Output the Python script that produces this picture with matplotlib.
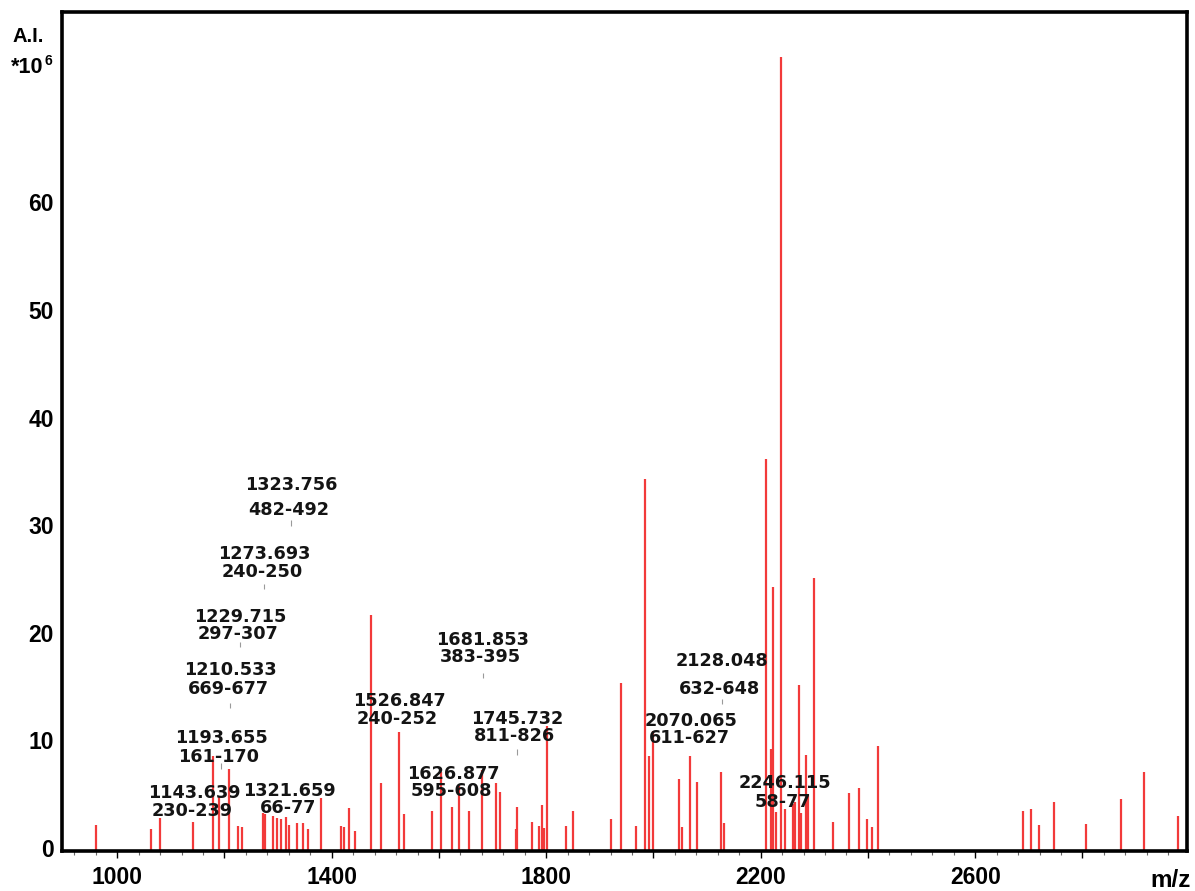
import numpy as np
import matplotlib
matplotlib.use("Agg")
import matplotlib.pyplot as plt
from matplotlib import font_manager
from matplotlib.ticker import MultipleLocator

# peak list: m/z and intensity (x 10^6)
mz = [960, 1063, 1079, 1141, 1178, 1190, 1208, 1226, 1232, 1271, 1275, 1290,
      1298, 1306, 1315, 1320, 1336, 1347, 1355, 1380, 1418, 1422, 1432, 1443,
      1474, 1492, 1525, 1535, 1587, 1604, 1624, 1637, 1656, 1680, 1706, 1714,
      1743, 1745, 1773, 1787, 1793, 1796, 1801, 1837, 1850, 1921, 1939, 1968,
      1985, 1991, 2000, 2048, 2054, 2069, 2082, 2126, 2131,
      2210, 2219, 2223, 2229, 2237.5, 2245, 2260, 2264, 2272, 2275, 2285, 2289,
      2300, 2335, 2364, 2383, 2398, 2407, 2418,
      2689, 2704, 2719, 2747, 2807, 2872, 2915, 2978]
intensity = [2.1, 1.7, 2.8, 2.4, 8.5, 4.7, 7.3, 2.0, 1.9, 3.2, 3.1, 3.0,
             2.8, 2.7, 2.9, 2.1, 2.3, 2.3, 1.7, 4.6, 2.0, 1.9, 3.7, 1.6,
             21.6, 6.0, 10.8, 3.1, 3.4, 7.0, 3.8, 5.7, 3.4, 7.2, 6.0, 5.2,
             1.7, 3.8, 2.4, 2.0, 4.0, 1.8, 11.3, 2.0, 3.4, 2.7, 15.3, 2.0,
             34.3, 8.5, 10.9, 6.4, 1.9, 8.5, 6.1, 7.0, 2.3,
             36.1, 9.2, 24.2, 3.3, 73.5, 3.6, 4.1, 4.3, 15.1, 3.2, 8.6, 5.0,
             25.1, 2.4, 5.1, 5.6, 2.7, 1.9, 9.5,
             3.4, 3.6, 2.1, 4.3, 2.25, 4.5, 7.0, 3.0]

# annotated peaks: m/z, peptide range, text heights and marker height
ann_mz = [1323.756, 1273.693, 1229.715, 1210.533, 1193.655, 1143.639, 1321.659,
          1526.847, 1681.853, 1745.732, 1626.877, 2128.048, 2070.065, 2246.115]
ann_range = ["482-492", "240-250", "297-307", "669-677", "161-170", "230-239", "66-77",
             "240-252", "383-395", "811-826", "595-608", "632-648", "611-627", "58-77"]
ann_y1 = [33.7, 27.3, 21.5, 16.5, 10.2, 5.1, 5.3, 13.6, 19.3, 12.0, 6.9, 17.4, 11.8, 6.0]
ann_y2 = [31.4, 25.6, 19.9, 14.8, 8.4, 3.4, 3.7, 12.0, 17.7, 10.4, 5.3, 14.8, 10.2, 4.3]
ann_mark = [30.2, 24.3, 18.9, 13.2, 7.6, None, None, None, 16.0, 8.9, None, 13.6, None, None]


def bold_sans():
    # regular-width Liberation Sans Bold (not the Narrow variant)
    for f in font_manager.fontManager.ttflist:
        if f.name == "Liberation Sans" and f.weight in (700, "bold") and f.style == "normal":
            return font_manager.FontProperties(fname=f.fname)
    return font_manager.FontProperties(family="DejaVu Sans", weight="bold")


fp = bold_sans()
ymin, ymax = -0.3, 77.7

fig = plt.figure(figsize=(11.95, 8.91), dpi=100)
ax = fig.add_axes([62 / 1195, 1 - 851 / 891, 1125 / 1195, 839 / 891])

ax.vlines(mz, ymin, intensity, color="#f23a3a", lw=1.6)

ann_font = dict(family="DejaVu Sans", weight="bold", size=12.7, color="#141414",
                ha="center", va="center")
for m, r, y1, y2, mk in zip(ann_mz, ann_range, ann_y1, ann_y2, ann_mark):
    ax.text(m, y1, f"{m:.3f}", **ann_font)
    ax.text(m - 4, y2, r, **ann_font)
    if mk is not None:
        ax.vlines(m, mk - 0.25, mk + 0.25, color="#9a9a9a", lw=0.8)

ax.set_xlim(897, 2995)
ax.set_ylim(ymin, ymax)
ax.xaxis.set_minor_locator(MultipleLocator(40))
ax.set_xticks(np.arange(1000, 3000, 200))
ax.set_xticklabels(["1000", "", "1400", "", "1800", "", "2200", "", "2600", ""])
ax.set_yticks(np.arange(0, 70, 10))
ax.tick_params(axis="x", which="major", length=5, width=1, pad=6)
ax.tick_params(axis="x", which="minor", length=3, width=0.8, color="#666666")
ax.tick_params(axis="y", length=0, pad=6)
for lbl in ax.get_xticklabels() + ax.get_yticklabels():
    lbl.set_fontproperties(fp)
    lbl.set_fontsize(16.5)

for sp in ax.spines.values():
    sp.set_linewidth(2.6)
    sp.set_color("black")

# y-axis unit label with superscript exponent
fig.text(13 / 1195, 1 - 42 / 891, "A.I.", fontproperties=fp, size=14.5)
base = fig.text(11 / 1195, 1 - 73 / 891, "*10", fontproperties=fp, size=15.5)
bb = base.get_window_extent(renderer=fig.canvas.get_renderer())
fig.text(bb.x1 / 1195 + 0.0008, 1 - 65 / 891, "6", fontproperties=fp, size=10)
fig.text(1191 / 1195, 1 - 887 / 891, "m/z", fontproperties=fp, size=17.5, ha="right")

fig.savefig("out.png", dpi=100)
